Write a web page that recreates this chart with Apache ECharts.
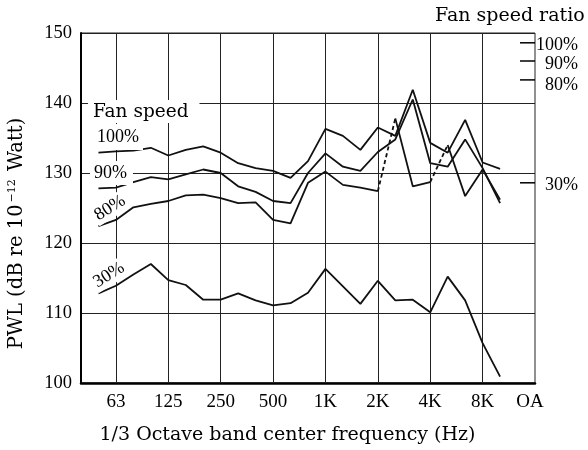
<!DOCTYPE html>
<html>
<head>
<meta charset="utf-8">
<script src="https://cdn.jsdelivr.net/npm/echarts@6/dist/echarts.min.js"></script>
<style>
  html, body { margin: 0; padding: 0; background: #fff; }
  #chart { width: 588px; height: 450px; }
</style>
</head>
<body>
<div id="chart"></div>
<script>
// 1/3 octave band centres; the x position of a band is its index here (40 Hz = 0)
const bandNames = ['40', '50', '63', '80', '100', '125', '160', '200', '250', '315', '400', '500',
  '630', '800', '1K', '1.25K', '1.6K', '2K', '2.5K', '3.15K', '4K', '5K', '6.3K', '8K', '10K', '12.5K', 'OA'];

// Octave bands that carry a grid line and a tick label
const octaveLabels = ['63', '125', '250', '500', '1K', '2K', '4K', '8K'];
const overallLabel = 'OA';

// Bands with a measured level
const measuredBands = ['50', '63', '80', '100', '125', '160', '200', '250', '315', '400', '500', '630',
  '800', '1K', '1.25K', '1.6K', '2K', '2.5K', '3.15K', '4K', '5K', '6.3K', '8K', '10K'];

// Sound power level, dB re 1e-12 W, per fan speed
const fan100 = [132.9, 133.1, 133.2, 133.6, 132.5, 133.3, 133.8, 132.9, 131.4, 130.7, 130.3, 129.3,
  131.7, 136.3, 135.3, 133.3, 136.5, 135.3, 141.9, 134.3, 132.9, 137.6, 131.5, 130.6];
const fan90 = [127.8, 127.9, 128.7, 129.4, 129.1, 129.8, 130.5, 130.0, 128.1, 127.3, 126.0, 125.7,
  130.0, 132.8, 130.9, 130.3, 133.0, 134.8, 140.5, 131.4, 130.9, 134.8, 130.7, 125.7];
const fan80 = [122.4, 123.3, 125.1, 125.6, 126.0, 126.8, 126.9, 126.4, 125.7, 125.8, 123.3, 122.8,
  128.6, 130.2, 128.3, 127.9, 127.4, 137.8, 128.1, 128.7, 134.0, 126.7, 130.5, 126.2];
const fan30 = [112.8, 113.9, 115.5, 117.0, 114.7, 114.0, 111.9, 111.9, 112.8, 111.8, 111.1, 111.4,
  112.9, 116.3, 113.8, 111.3, 114.6, 111.8, 111.9, 110.1, 115.2, 111.8, 105.7, 100.9];

// Segments of the 80 % curve drawn dashed (start band, end band)
const dashed80 = [['2K', '2.5K'], ['4K', '5K']];

// Overall (OA) levels, marked on the right-hand border
const oaNames = ['100%', '90%', '80%', '30%'];
const oaLevels = [148.6, 146.0, 143.3, 128.6];
const oaLabelShift = [2, 3.5, 5, 2];

const xOf = name => bandNames.indexOf(name);
const xMax = bandNames.length - 1;

function toPoints(values) {
  return values.map((v, i) => [xOf(measuredBands[i]), v]);
}

// Solid curve with breaks where the dashed pieces go
function solidWithGaps(values, gaps) {
  const pts = toPoints(values);
  const out = [];
  pts.forEach((p, i) => {
    out.push(p);
    const next = pts[i + 1];
    if (next && gaps.some(g => xOf(g[0]) === p[0] && xOf(g[1]) === next[0])) {
      out.push([(p[0] + next[0]) / 2, '-']);
    }
  });
  return out;
}
function dashedPieces(values, gaps) {
  const pts = toPoints(values);
  const out = [];
  gaps.forEach((g, k) => {
    if (k > 0) out.push([xOf(g[0]) - 0.5, '-']);
    pts.forEach(p => { if (p[0] === xOf(g[0]) || p[0] === xOf(g[1])) out.push(p); });
  });
  return out;
}

const serif = '"DejaVu Serif", serif';
const numFont = '"Liberation Serif", serif';
const curveStyle = { color: '#111', width: 1.8 };

const chart = echarts.init(document.getElementById('chart'), null, { renderer: 'canvas' });

const lineSeries = (name, data, style) => ({
  name, type: 'line', data, symbol: 'none', silent: true, animation: false,
  connectNulls: false, lineStyle: style, z: 3
});

chart.setOption({
  animation: false,
  backgroundColor: '#fff',
  title: {
    text: 'Fan speed ratio', left: 435, top: 7, padding: 0,
    textStyle: { fontFamily: serif, fontSize: 19, fontWeight: 'normal', color: '#000' }
  },
  grid: {
    left: 81, right: 53, top: 33, bottom: 67,
    show: true, borderColor: '#222', borderWidth: 1,
    outerBoundsMode: 'none'
  },
  xAxis: {
    type: 'value', min: 0, max: xMax, interval: 1,
    axisLine: { show: true, onZero: false, lineStyle: { color: '#000', width: 2.5 } },
    axisTick: { show: false },
    splitLine: { show: false },
    axisLabel: {
      margin: 10, color: '#000', fontFamily: numFont, fontSize: 19,
      showMinLabel: true, showMaxLabel: true,
      formatter: v => {
        const name = bandNames[Math.round(v)];
        if (name === overallLabel) return '{oa|' + overallLabel + '}';
        return octaveLabels.includes(name) ? name : '';
      },
      rich: { oa: { fontFamily: numFont, fontSize: 19, color: '#000', padding: [0, 10, 0, 0] } }
    },
    name: '1/3 Octave band center frequency (Hz)',
    nameLocation: 'middle', nameGap: 43,
    nameTextStyle: { fontFamily: serif, fontSize: 19, color: '#000', padding: [0, 41, 0, 0] }
  },
  yAxis: {
    type: 'value', min: 100, max: 150, interval: 10,
    axisLine: { show: true, lineStyle: { color: '#000', width: 2 } },
    axisTick: { show: false },
    axisLabel: { margin: 9, color: '#000', fontFamily: numFont, fontSize: 18.5 },
    splitLine: { show: true, lineStyle: { color: '#222', width: 1 } },
    name: 'PWL (dB re 10{sup|−12} Watt)',
    nameLocation: 'middle', nameRotate: 90, nameGap: 54,
    nameTextStyle: {
      fontFamily: serif, fontSize: 19.5, color: '#000', padding: [0, 51, 0, 0],
      rich: { sup: { fontFamily: serif, fontSize: 11, color: '#000', verticalAlign: 'top', padding: [0, 2, 8, 2] } }
    }
  },
  series: [
    lineSeries('100%', toPoints(fan100), curveStyle),
    lineSeries('90%', toPoints(fan90), curveStyle),
    lineSeries('80%', solidWithGaps(fan80, dashed80), curveStyle),
    lineSeries('80% dashed', dashedPieces(fan80, dashed80), Object.assign({}, curveStyle, { type: [4, 3] })),
    Object.assign(lineSeries('30%', toPoints(fan30), curveStyle), {
      markLine: {
        silent: true, animation: false, symbol: ['none', 'none'], z: 1,
        label: { show: false }, emphasis: { disabled: true },
        lineStyle: { color: '#222', width: 1, type: 'solid' },
        data: octaveLabels.map(n => ({ xAxis: xOf(n) }))
      }
    }),
    {
      name: 'OA', type: 'scatter', silent: true, animation: false, clip: false, z: 3,
      symbol: 'rect', symbolSize: [15, 1.5], symbolOffset: [-7.5, 0],
      itemStyle: { color: '#000', opacity: 1 },
      data: oaLevels.map((v, i) => ({ value: [xMax, v], label: { offset: [0, oaLabelShift[i]] } })),
      label: {
        show: true, position: 'right', distance: 43, align: 'right',
        fontFamily: numFont, fontSize: 18, color: '#000', opacity: 1,
        formatter: p => oaNames[p.dataIndex]
      }
    }
  ],
  graphic: [
    { type: 'text', x: 88, y: 100, z: 10,
      style: { text: 'Fan speed', font: '18.5px ' + serif, fill: '#000', backgroundColor: '#fff', padding: [3, 11, 1, 5] } },
    { type: 'text', x: 92, y: 124, z: 10,
      style: { text: '100%', font: '18px ' + numFont, fill: '#000', backgroundColor: '#fff', padding: [4, 4, 4, 5] } },
    { type: 'text', x: 90, y: 161, z: 10,
      style: { text: '90%', font: '18px ' + numFont, fill: '#000', backgroundColor: '#fff', padding: [3, 6, 3, 4] } },
    { type: 'text', x: 110, y: 208, rotation: 32 * Math.PI / 180, z: 10,
      style: { text: '80%', font: '18px ' + numFont, fill: '#000', align: 'center', verticalAlign: 'middle', backgroundColor: '#fff', padding: [1, 2, 1, 2] } },
    { type: 'text', x: 109, y: 275, rotation: 32 * Math.PI / 180, z: 10,
      style: { text: '30%', font: '18px ' + numFont, fill: '#000', align: 'center', verticalAlign: 'middle', backgroundColor: '#fff', padding: [1, 2, 1, 2] } }
  ]
});
</script>
</body>
</html>
